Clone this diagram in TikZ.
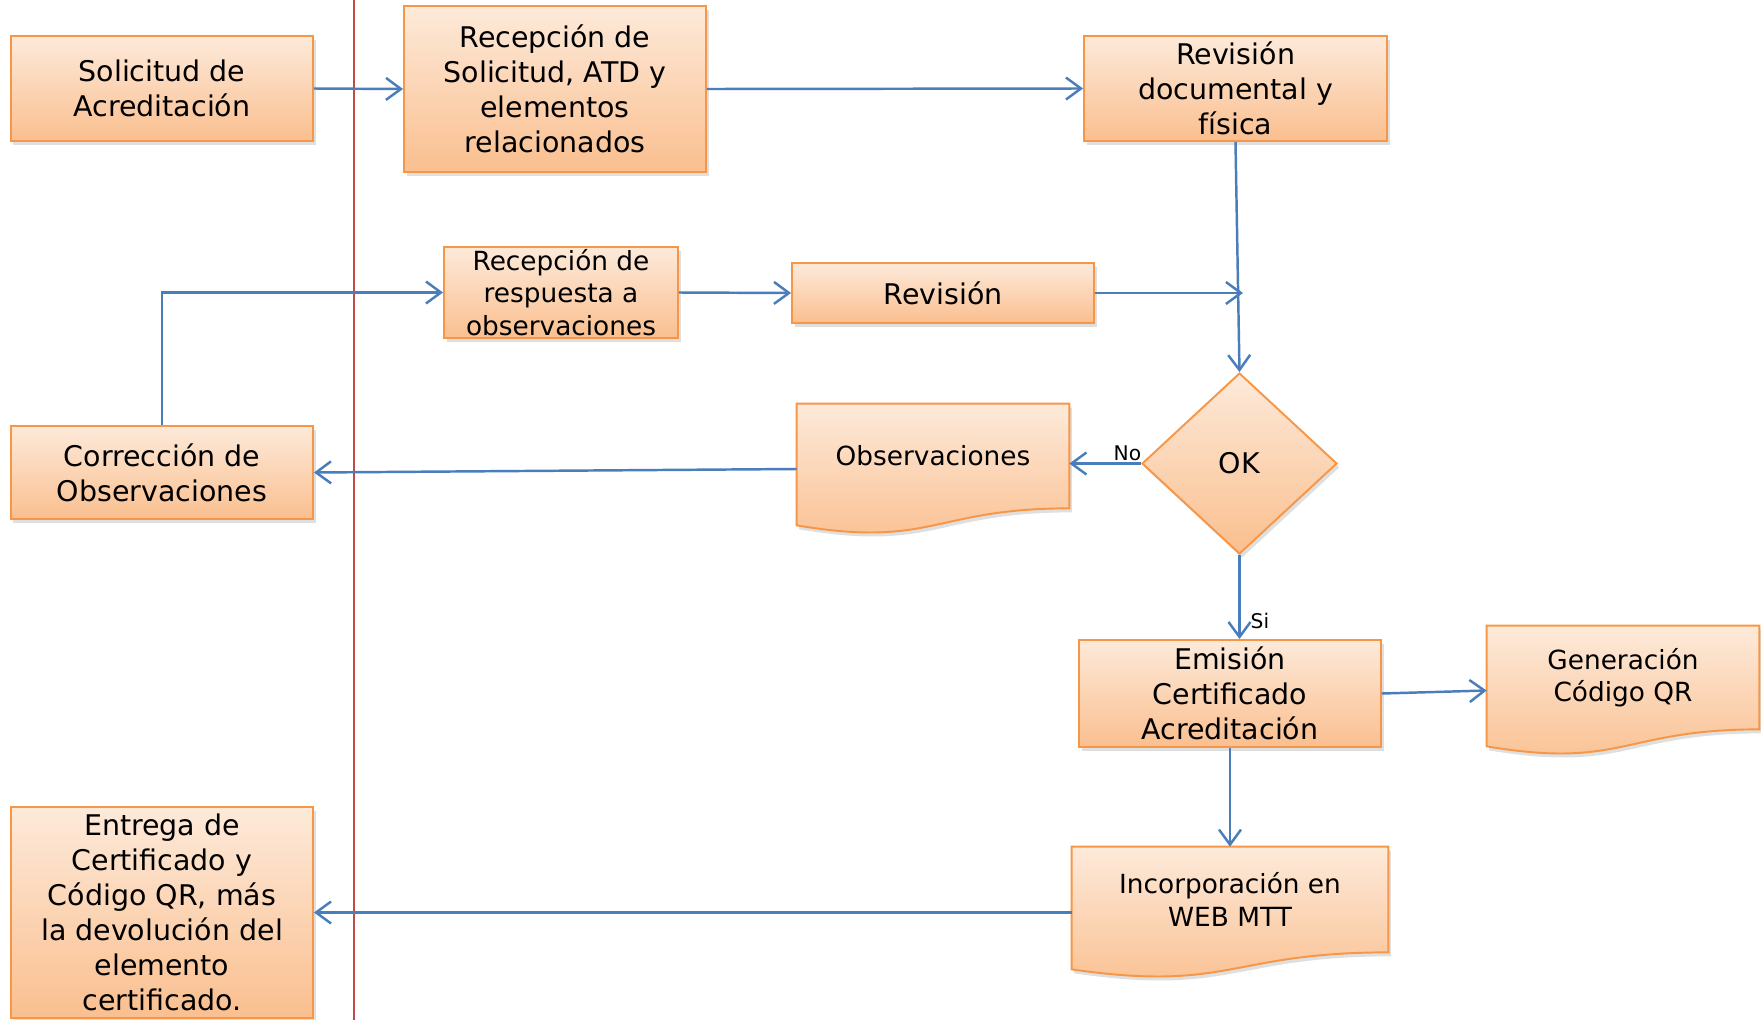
\documentclass[tikz,border=0pt]{standalone}
\usepackage{fontspec}
\setmainfont{DejaVu Sans}
\usetikzlibrary{shapes.geometric,arrows.meta,shadows,backgrounds,calc}
\definecolor{boxline}{RGB}{247,150,70}
\definecolor{boxtop}{RGB}{253,234,218}
\definecolor{boxbot}{RGB}{250,191,143}
\definecolor{flowblue}{RGB}{74,126,187}
\definecolor{lanered}{RGB}{190,75,72}
\newcommand{\boxfont}{\fontsize{16.2}{19.9}\selectfont}
\newcommand{\docfont}{\fontsize{15}{18.4}\selectfont}
\newcommand{\labfont}{\fontsize{11.5}{13}\selectfont}
\newcommand{\boxw}{60.4mm}
% paper outline with a wavy foot, drawn behind a docbox node
\newcommand{\docoutline}[1]{%
  \begin{pgfonlayer}{background}
    \shade[docpaper] (#1.north west) -- (#1.north east) -- (#1.south east)
      .. controls (#1.south) and ($(#1.south)+(0,40)$) .. ($(#1.south west)+(0,17)$) -- cycle;
  \end{pgfonlayer}
  \coordinate (#1-w) at ($(#1.west)+(0,13)$);
  \coordinate (#1-e) at ($(#1.east)+(0,13)$);}

\begin{document}
\begin{tikzpicture}[x=0.2mm, y=-0.2mm]
                %\draw[help lines] (0,0) grid[step=100] (1761,1020);
                \tikzset{
                    procbox/.style = {draw=boxline, line width=1.1pt, top color=boxtop, bottom color=boxbot,
                        minimum width=\boxw, inner sep=0pt, align=center, font=\boxfont,
                        drop shadow={shadow xshift=0.5mm, shadow yshift=-0.8mm, opacity=0.25}},
                    docbox/.style = {minimum width=54.4mm, minimum height=20.8mm, inner sep=0pt,
                        align=center, font=\docfont},
                    docpaper/.style = {draw=boxline, line width=1.1pt, top color=boxtop, bottom color=boxbot,
                        drop shadow={shadow xshift=0.5mm, shadow yshift=-0.8mm, opacity=0.25}},
                    flow/.style = {draw=flowblue, line width=1.4pt, -{Straight Barb[length=3mm, width=4.4mm]}},
                    flowlabel/.style = {font=\labfont, inner sep=0pt}
                }
                \useasboundingbox (0,0) rectangle (1761,1020);
                \draw[lanered, line width=0.8pt] (354,0) -- (354,1020);

                % left column
                \node[procbox, minimum height=21mm] (sol) at (162,88.5) {Solicitud de\\Acreditación};
                \node[procbox, minimum height=18.6mm] (cor) at (162,472.5) {Corrección de\\Observaciones};
                \node[procbox, minimum height=42.2mm] (ent) at (162,912.5)
                    {Entrega de\\Certificado y\\Código QR, más\\la devolución del\\elemento\\certificado.};

                % reception and review
                \node[procbox, minimum height=33.2mm] (rec) at (555,89)
                    {Recepción de\\Solicitud, ATD y\\elementos\\relacionados};
                \node[procbox, minimum width=60.6mm, minimum height=21mm] (revdoc) at (1235.5,88.5)
                    {Revisión\\documental y\\física};
                \node[procbox, minimum width=46.8mm, minimum height=18.2mm, font=\docfont] (resp) at (561,292.5)
                    {Recepción de\\respuesta a\\observaciones};
                \node[procbox, minimum height=12mm] (rev) at (943,293) {Revisión};
                \coordinate (join) at (1243,293);

                % decision
                \node[procbox, diamond, minimum width=39mm, minimum height=36.2mm] (ok) at (1239.5,463.5) {OK};
                \node[docbox] (obs) at (933,456) {Observaciones};
                \docoutline{obs}

                % certificate
                \node[procbox, minimum height=21.4mm] (emi) at (1230,693.5)
                    {Emisión\\Certificado\\Acreditación};
                \node[docbox, minimum height=20.6mm] (gen) at (1623,677.5) {Generación\\Código QR};
                \docoutline{gen}
                \node[docbox, minimum width=63.2mm, minimum height=21mm] (inc) at (1230,899.5)
                    {Incorporación en\\WEB MTT};
                \docoutline{inc}

                \draw[flow] (sol.east) -- (rec.west);
                \draw[flow] (rec.east) -- (revdoc.west);
                \draw[flow] (revdoc.south) -- (ok.north);
                \draw[flow] (resp.east) -- (rev.west);
                \draw[flow] (rev.east) -- (join);
                \draw[flow] (cor.north) |- (resp.west);
                \draw[flow] (ok.west) -- (ok.west -| obs.east)
                    node[flowlabel, pos=0.19, above=1pt] {No};
                \draw[flow] (obs-w) -- (cor.east);
                \draw[flow] (ok.south) -- (ok.south |- emi.north)
                    node[flowlabel, pos=0.79, right=2mm] {Si};
                \draw[flow] (emi.east) -- (gen-w);
                \draw[flow] (emi.south) -- (inc.north);
                \draw[flow] (inc-w) -- (ent.east);
\end{tikzpicture}
\end{document}
